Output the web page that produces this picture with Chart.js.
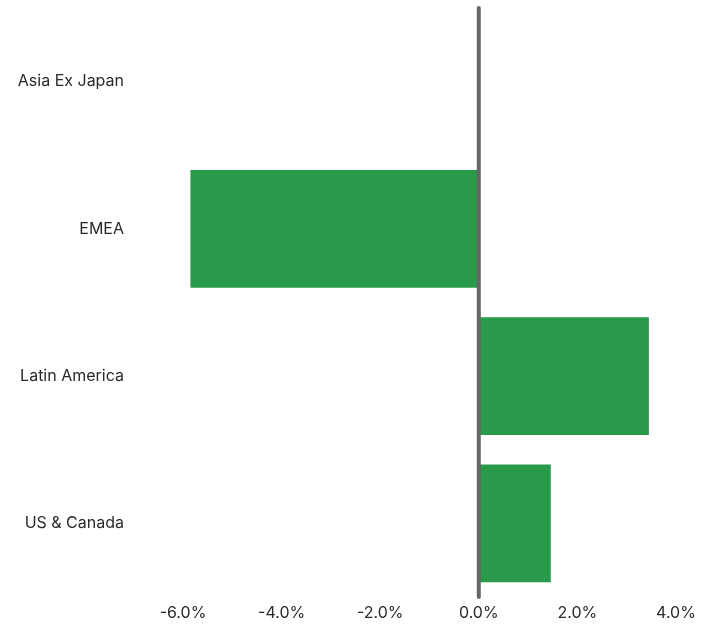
<!DOCTYPE html>
<html>
<head>
<meta charset="utf-8">
<script src="https://cdn.jsdelivr.net/npm/chart.js@4.4.1/dist/chart.umd.min.js"></script>
<style>
  html, body { margin: 0; padding: 0; background: #fff; }
  #wrap { width: 716px; height: 625px; }
</style>
</head>
<body>
<div id="wrap"><canvas id="chart"></canvas></div>
<script>
// Data
var regions = ['Asia Ex Japan', 'EMEA', 'Latin America', 'US & Canada'];
var returns = [0, -5.85, 3.45, 1.46];
var xTicks = [-6, -4, -2, 0, 2, 4];

// Thick grey zero line, drawn over the bars
var zeroLine = {
    id: 'zeroLine',
    afterDatasetsDraw: function(chart) {
        var ctx = chart.ctx;
        var x = chart.scales.x.getPixelForValue(0);
        var area = chart.chartArea;
        ctx.save();
        ctx.strokeStyle = '#666666';
        ctx.lineWidth = 4;
        ctx.lineCap = 'round';
        ctx.beginPath();
        ctx.moveTo(x, area.top);
        ctx.lineTo(x, area.bottom);
        ctx.stroke();
        ctx.restore();
    }
};

var ctx = document.getElementById('chart').getContext('2d');
var myChart = new Chart(ctx, {
    type: 'bar',
    data: {
        labels: regions,
        datasets: [{
            data: returns,
            backgroundColor: '#299a4a',
            borderWidth: 0,
            barPercentage: 0.8,
            categoryPercentage: 1.0
        }]
    },
    options: {
        indexAxis: 'y',
        responsive: true,
        maintainAspectRatio: false,
        animation: false,
        layout: {
            padding: { top: 8, right: 40, bottom: 0, left: 0 }
        },
        scales: {
            x: {
                type: 'linear',
                min: -6,
                max: 4,
                grid: { display: false },
                border: { display: false },
                afterBuildTicks: function(scale) {
                    scale.ticks = xTicks.map(function(v) { return { value: v }; });
                },
                afterFit: function(scale) {
                    scale.height = 28;
                },
                ticks: {
                    padding: -1,
                    color: '#2a2a2a',
                    font: { family: 'Inter', size: 16 },
                    callback: function(v) { return v.toFixed(1) + '%'; }
                }
            },
            y: {
                grid: { display: false },
                border: { display: false },
                afterFit: function(scale) {
                    scale.width = 183;
                    // tick padding would otherwise push the chart down
                    scale.paddingTop = 0;
                    scale.paddingBottom = 0;
                },
                ticks: {
                    padding: 51,
                    color: '#2a2a2a',
                    font: { family: 'Inter', size: 16 }
                }
            }
        },
        plugins: {
            legend: { display: false },
            tooltip: { enabled: false }
        }
    },
    plugins: [zeroLine]
});
</script>
</body>
</html>
